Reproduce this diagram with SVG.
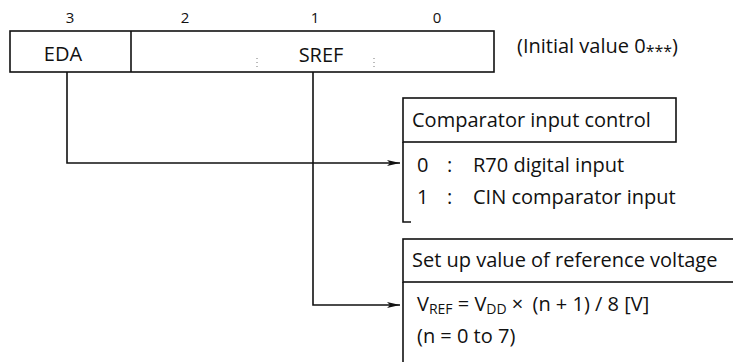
<svg xmlns="http://www.w3.org/2000/svg" width="733" height="362" viewBox="0 0 733 362">
<defs>
<style>
text{font-family:"Open Sans","Liberation Sans",sans-serif;font-size:20px;fill:#111}
.bit{font-size:15px}
.sub{font-size:14px}
.star{font-size:16px}
.ln{fill:none;stroke:#111;stroke-width:1.6}
.dot{stroke:#777;stroke-width:1;stroke-dasharray:1 3}
</style>
<marker id="ah" markerWidth="14" markerHeight="8" refX="13" refY="4" orient="auto" markerUnits="userSpaceOnUse">
<path d="M0,1 L13,4 L0,7 L3,4 Z" fill="#111"/>
</marker>
</defs>
<rect width="733" height="362" fill="#fff"/>
<g id="register">
<text class="bit" x="70" y="23" text-anchor="middle">3</text>
<text class="bit" x="185" y="23" text-anchor="middle">2</text>
<text class="bit" x="315" y="23" text-anchor="middle">1</text>
<text class="bit" x="437" y="23" text-anchor="middle">0</text>
<rect class="ln" x="10" y="31" width="484" height="41"/>
<line class="ln" x1="131" y1="31" x2="131" y2="72"/>
<line class="dot" x1="257" y1="58" x2="257" y2="68"/>
<line class="dot" x1="374" y1="58" x2="374" y2="68"/>
<text x="63" y="61" text-anchor="middle">EDA</text>
<text x="321" y="62" text-anchor="middle">SREF</text>
<text x="517" y="53">(Initial value 0<tspan class="star" dy="4">***</tspan><tspan dy="-4">)</tspan></text>
</g>
<g id="connectors">
<polyline class="ln" points="67,72 67,163 400,163" marker-end="url(#ah)"/>
<polyline class="ln" points="313,72 313,305 400,305" marker-end="url(#ah)"/>
</g>
<g id="comparator">
<rect class="ln" x="403" y="98" width="273" height="44"/>
<text x="412" y="127">Comparator input control</text>
<polyline class="ln" points="403,142 403,222 411,222"/>
<text x="417" y="172">0</text>
<text x="447" y="172">:</text>
<text x="473" y="172">R70 digital input</text>
<text x="417" y="204">1</text>
<text x="447" y="204">:</text>
<text x="473" y="204">CIN comparator input</text>
</g>
<g id="reference">
<rect class="ln" x="403" y="239" width="340" height="43"/>
<text x="412" y="267">Set up value of reference voltage</text>
<line class="ln" x1="403" y1="282" x2="403" y2="362"/>
<text x="417" y="311">V<tspan class="sub" dy="3">REF</tspan><tspan dy="-3"> = V</tspan><tspan class="sub" dy="3">DD</tspan><tspan dy="-3"> × </tspan><tspan dx="4">(n + 1) / 8 [V]</tspan></text>
<text x="417" y="343">(n = 0 to 7)</text>
</g>
</svg>
